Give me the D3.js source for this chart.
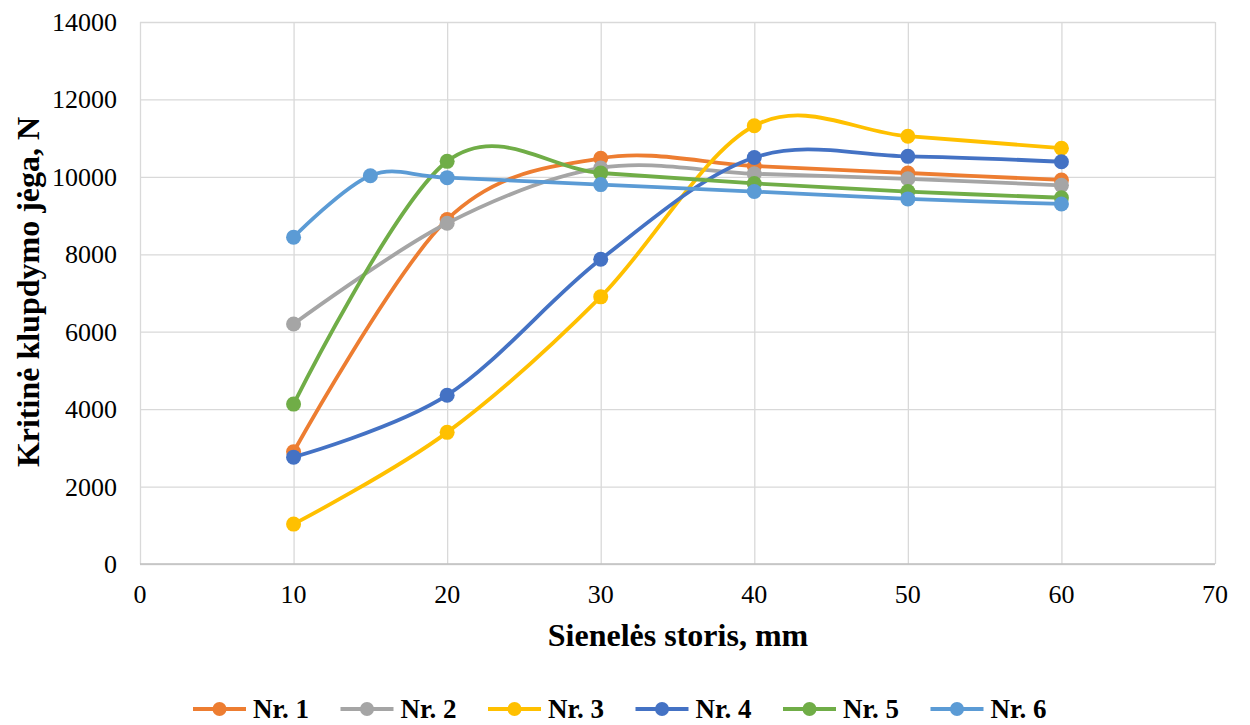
<!DOCTYPE html>
<html>
<head>
<meta charset="utf-8">
<script src="https://cdn.jsdelivr.net/npm/d3@7"></script>
<style>
body { margin: 0; background: #fff; }
text { font-family: "Liberation Serif", "Times New Roman", serif; }
</style>
</head>
<body>
<svg id="chart" width="1250" height="725"></svg>
<script>
// values
var seriesNames = ["Nr. 1", "Nr. 2", "Nr. 3", "Nr. 4", "Nr. 5", "Nr. 6"];
var seriesColors = ["#ED7D31", "#A5A5A5", "#FFC000", "#4472C4", "#70AD47", "#5B9BD5"];
var xMain = [10, 20, 30, 40, 50, 60];
var x6 = [10, 15, 20, 30, 40, 50, 60];
var nr1 = [2900, 8900, 10480, 10280, 10100, 9920];
var nr2 = [6200, 8800, 10230, 10080, 9950, 9780];
var nr3 = [1030, 3400, 6900, 11320, 11050, 10740];
var nr4 = [2760, 4360, 7870, 10500, 10530, 10390];
var nr5 = [4130, 10400, 10100, 9830, 9620, 9460];
var nr6 = [8440, 10030, 9980, 9800, 9620, 9430, 9300];
var xTicks = [0, 10, 20, 30, 40, 50, 60, 70];
var yTicks = [0, 2000, 4000, 6000, 8000, 10000, 12000, 14000];

var allY = [nr1, nr2, nr3, nr4, nr5, nr6];
var allX = [xMain, xMain, xMain, xMain, xMain, x6];

var svg = d3.select("#chart");
var pLeft = 140, pRight = 1215, pTop = 22, pBottom = 564;

var x = d3.scaleLinear().domain([0, 70]).range([pLeft, pRight]);
var y = d3.scaleLinear().domain([0, 14000]).range([pBottom, pTop]);

// gridlines
svg.append("g")
	.attr("transform", "translate(0," + pBottom + ")")
	.call(d3.axisBottom(x).tickValues(xTicks).tickSize(-(pBottom - pTop)).tickFormat(""))
	.call(function(g){ g.select(".domain").remove(); })
	.selectAll("line").attr("stroke", "#d9d9d9").attr("stroke-width", 1.3);

svg.append("g")
	.attr("transform", "translate(" + pLeft + ",0)")
	.call(d3.axisLeft(y).tickValues(yTicks).tickSize(-(pRight - pLeft)).tickFormat(""))
	.call(function(g){ g.select(".domain").remove(); })
	.selectAll("line").attr("stroke", "#d9d9d9").attr("stroke-width", 1.3);

// bottom axis line
svg.append("line")
	.attr("x1", pLeft).attr("x2", pRight)
	.attr("y1", pBottom).attr("y2", pBottom)
	.attr("stroke", "#bfbfbf").attr("stroke-width", 1.5);

// tick labels
svg.append("g").selectAll("text")
	.data(xTicks).enter().append("text")
	.attr("x", function(d){ return x(d); })
	.attr("y", pBottom + 39)
	.attr("text-anchor", "middle")
	.attr("font-size", 26)
	.text(function(d){ return d; });

svg.append("g").selectAll("text")
	.data(yTicks).enter().append("text")
	.attr("x", pLeft - 23)
	.attr("y", function(d){ return y(d) + 9; })
	.attr("text-anchor", "end")
	.attr("font-size", 26)
	.text(function(d){ return d; });

// axis titles
svg.append("text")
	.attr("x", 678)
	.attr("y", 646)
	.attr("text-anchor", "middle")
	.attr("font-size", 32).attr("font-weight", "bold")
	.text("Sienelės storis, mm");

svg.append("text")
	.attr("transform", "translate(39,292) rotate(-90)")
	.attr("text-anchor", "middle")
	.attr("font-size", 32).attr("font-weight", "bold")
	.text("Kritinė klupdymo jėga, N");

// series
var line = d3.line()
	.x(function(d){ return x(d[0]); })
	.y(function(d){ return y(d[1]); })
	.curve(d3.curveCatmullRom.alpha(0));

for (var s = 0; s < seriesNames.length; s++) {
	var pts = allX[s].map(function(v, i){ return [v, allY[s][i]]; });
	var g = svg.append("g").attr("class", "series");
	g.append("path")
		.datum(pts)
		.attr("d", line)
		.attr("fill", "none")
		.attr("stroke", seriesColors[s])
		.attr("stroke-width", 3.8)
		.attr("stroke-linecap", "round");
	g.selectAll("circle")
		.data(pts).enter().append("circle")
		.attr("cx", function(d){ return x(d[0]); })
		.attr("cy", function(d){ return y(d[1]); })
		.attr("r", 7.5)
		.attr("fill", seriesColors[s]);
}

// legend
var legend = svg.append("g").attr("transform", "translate(193,709)");
var item = legend.selectAll("g")
	.data(seriesNames).enter().append("g")
	.attr("transform", function(d, i){ return "translate(" + (i * 147.5) + ",0)"; });
item.append("line")
	.attr("x1", 0).attr("x2", 53)
	.attr("stroke", function(d, i){ return seriesColors[i]; })
	.attr("stroke-width", 4);
item.append("circle")
	.attr("cx", 26.5).attr("r", 7)
	.attr("fill", function(d, i){ return seriesColors[i]; });
item.append("text")
	.attr("x", 60).attr("y", 9)
	.attr("font-size", 27).attr("font-weight", "bold")
	.text(function(d){ return d; });
</script>
</body>
</html>
